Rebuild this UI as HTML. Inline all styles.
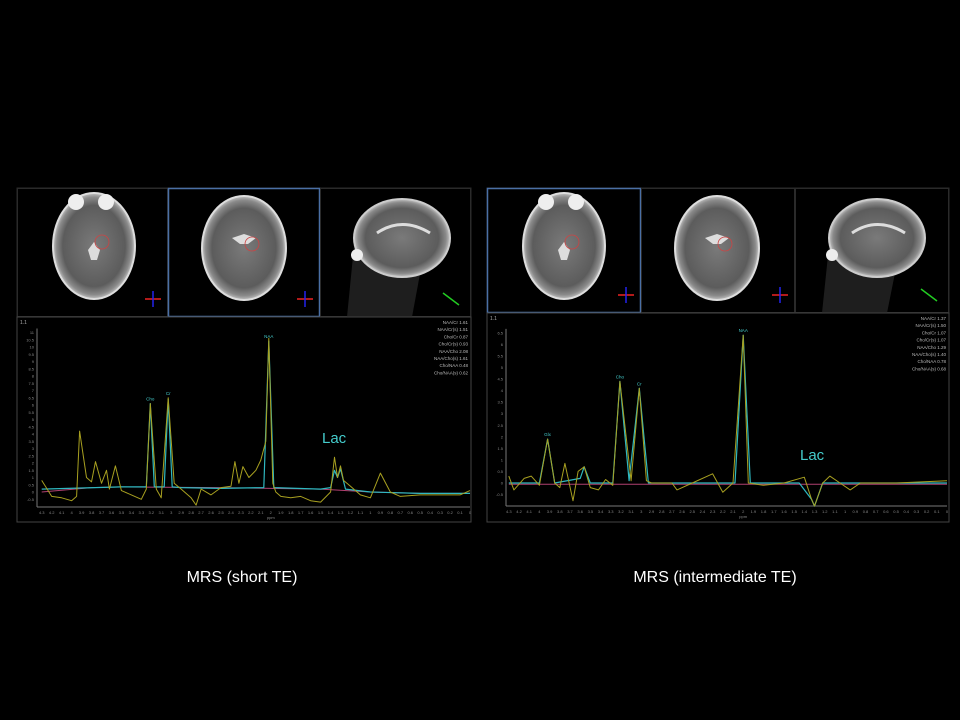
<!DOCTYPE html>
<html><head><meta charset="utf-8"><style>
html,body{margin:0;padding:0;background:#000;width:960px;height:720px;overflow:hidden}
svg{display:block}
text{font-family:"Liberation Sans",sans-serif}
</style></head><body>
<svg id="root" width="960" height="720" viewBox="0 0 960 720">
<defs>
<radialGradient id="brain" cx="50%" cy="50%" r="52%">
<stop offset="0" stop-color="#7a7a7a"/><stop offset="0.75" stop-color="#5c5c5c"/><stop offset="0.9" stop-color="#8a8a8a"/><stop offset="1" stop-color="#cfcfcf"/>
</radialGradient>
</defs>
<text x="242" y="582" fill="#fff" font-size="16" text-anchor="middle">MRS (short TE)</text>
<text x="715" y="582" fill="#fff" font-size="16" text-anchor="middle">MRS (intermediate TE)</text>
</svg>
<script>
// ---- Short TE data ----
const shortPpm = [4.3,4.2,4.1,4.0,3.95,3.92,3.85,3.8,3.76,3.7,3.65,3.62,3.56,3.5,3.4,3.3,3.25,3.21,3.15,3.1,3.03,2.97,2.9,2.8,2.75,2.7,2.6,2.5,2.4,2.36,2.32,2.28,2.22,2.15,2.1,2.05,2.02,1.98,1.95,1.9,1.8,1.7,1.6,1.5,1.4,1.36,1.33,1.3,1.27,1.2,1.1,1.0,0.9,0.8,0.7,0.5,0.3,0.1,0.0];
const shortVal = [0.8,-0.3,-0.4,-0.6,-0.3,4.2,1.0,0.7,2.1,0.6,1.5,0.2,1.8,0.1,-0.2,-0.5,0.2,6.1,0.2,-0.4,6.5,0.6,0.2,-0.4,-0.9,0.2,-0.2,0.3,0.4,2.1,0.6,1.75,1.0,1.5,2.2,3.5,10.6,0.6,0.0,-0.3,-0.4,-0.3,-0.6,-0.7,0.0,2.4,1.0,1.8,0.8,0.4,-0.2,-0.4,1.3,0.0,-0.3,-0.2,-0.2,-0.2,0.1];
const shortFitPpm = [4.3,3.5,3.25,3.21,3.17,3.07,3.03,2.99,2.9,2.5,2.07,2.02,1.97,1.5,1.4,1.36,1.33,1.3,1.25,1.0,0.5,0.0];
const shortFitVal = [0.2,0.35,0.35,6.1,0.35,0.35,6.4,0.35,0.3,0.25,0.3,10.4,0.3,0.2,0.3,1.5,1.0,1.6,0.2,0.0,-0.1,-0.1];
const shortBasePpm = [4.3,3.8,3.5,2.5,1.5,1.0,0.5,0.0];
const shortBaseVal = [0.0,0.3,0.35,0.3,0.2,0.0,-0.1,-0.1];
const shortTicksY = [-0.5,0,0.5,1,1.5,2,2.5,3,3.5,4,4.5,5,5.5,6,6.5,7,7.5,8,8.5,9,9.5,10,10.5,11];
const shortRatios = [["NAA/Cr","1.61"],["NAA/Cr(s)","1.51"],["Cho/Cr","0.87"],["Cho/Cr(s)","0.93"],["NAA/Cho","2.08"],["NAA/Cho(s)","1.61"],["Cho/NAA","0.48"],["Cho/NAA(s)","0.62"]];
// ---- Intermediate TE data ----
const interPpm = [4.3,4.25,4.15,4.08,4.0,3.92,3.85,3.8,3.75,3.67,3.62,3.56,3.5,3.42,3.35,3.28,3.21,3.1,3.02,2.95,2.9,2.7,2.65,2.5,2.3,2.2,2.1,2.0,1.95,1.8,1.6,1.4,1.33,1.3,1.22,1.15,1.05,0.95,0.85,0.5,0.0];
const interVal = [0.3,-0.3,0.2,0.3,-0.1,1.9,0.0,-0.2,0.85,-0.77,0.5,0.7,-0.2,-0.3,0.15,-0.1,4.4,0.1,4.1,0.1,0.0,0.0,-0.3,0.0,0.4,-0.4,0.0,6.4,0.0,-0.1,0.0,0.25,-0.7,-1.0,0.0,0.3,0.0,-0.3,0.0,0.0,0.1];
const interFitPpm = [4.3,4.0,3.92,3.85,3.6,3.56,3.5,3.28,3.21,3.12,3.02,2.93,2.5,2.08,2.0,1.93,1.45,1.33,1.3,1.22,1.0,0.0];
const interFitVal = [0.0,0.0,1.9,0.0,0.2,0.7,0.0,0.0,4.4,0.1,4.1,0.0,0.0,0.0,6.4,0.0,0.0,-0.7,-1.0,0.0,0.0,0.0];
const interBasePpm = [4.3,0.0];
const interBaseVal = [-0.05,-0.05];
const interTicksY = [-0.5,0,0.5,1,1.5,2,2.5,3,3.5,4,4.5,5,5.5,6,6.5];
const interRatios = [["NAA/Cr","1.37"],["NAA/Cr(s)","1.50"],["Cho/Cr","1.07"],["Cho/Cr(s)","1.07"],["NAA/Cho","1.29"],["NAA/Cho(s)","1.40"],["Cho/NAA","0.78"],["Cho/NAA(s)","0.68"]];
const ppmTicks = [4.3,4.2,4.1,4,3.9,3.8,3.7,3.6,3.5,3.4,3.3,3.2,3.1,3,2.9,2.8,2.7,2.6,2.5,2.4,2.3,2.2,2.1,2,1.9,1.8,1.7,1.6,1.5,1.4,1.3,1.2,1.1,1,0.9,0.8,0.7,0.6,0.5,0.4,0.3,0.2,0.1,0];

const NS='http://www.w3.org/2000/svg';
const root=document.getElementById('root');
function mk(tag,attrs,parent){const e=document.createElementNS(NS,tag);for(const k in attrs)e.setAttribute(k,attrs[k]);(parent||root).appendChild(e);return e;}

function drawMRI(x0,x1,x2,x3,yTop,yBot,blueIdx){
  const g=mk('g',{});
  
  
  mk('rect',{x:x0,y:yTop,width:x3-x0,height:yBot-yTop,fill:'#000',stroke:'#2a2a2a','stroke-width':1},g);
  const xs=[x0,x1,x2,x3];
  for(let i=0;i<3;i++){
    const p=mk('rect',{x:xs[i]+0.5,y:yTop+0.5,width:xs[i+1]-xs[i]-1,height:yBot-yTop-1,fill:'none',stroke:i===blueIdx?'#4a6fa5':'#2a2a2a','stroke-width':i===blueIdx?1.5:1},g);
    
    
  }
  // axial
  const ax=x0+77, ay=yTop+58;
  mk('ellipse',{cx:ax,cy:ay,rx:42,ry:54,fill:'#ddd'},g);
  mk('ellipse',{cx:ax,cy:ay,rx:40,ry:52,fill:'url(#brain)'},g);
  mk('circle',{cx:ax-18,cy:yTop+14,r:8,fill:'#eee'},g);
  mk('circle',{cx:ax+12,cy:yTop+14,r:8,fill:'#eee'},g);
  mk('path',{d:`M${ax-6} ${ay+4} l6 -8 l6 8 l-3 10 l-6 0 z`,fill:'#ddd'},g);
  mk('circle',{cx:ax+8,cy:ay-4,r:7,fill:'none',stroke:'#c44','stroke-width':0.8},g);
  // coronal
  const cx=x1+76, cy=yTop+60;
  mk('ellipse',{cx:cx,cy:cy,rx:43,ry:53,fill:'#ddd'},g);
  mk('ellipse',{cx:cx,cy:cy,rx:41,ry:51,fill:'url(#brain)'},g);
  mk('path',{d:`M${cx-12} ${cy-10} l12 -4 l12 4 l-8 6 l-8 0 z`,fill:'#ddd'},g);
  mk('circle',{cx:cx+8,cy:cy-4,r:7,fill:'none',stroke:'#c44','stroke-width':0.8},g);
  // sagittal
  const sx=x2+82, sy=yTop+50;
  mk('path',{d:`M${sx-48} ${sy+8} L${sx-55} ${yBot} L${sx+10} ${yBot} L${sx+20} ${sy+25} Z`,fill:'#1e1e1e'},g);
  mk('ellipse',{cx:sx,cy:sy,rx:49,ry:40,fill:'#ccc'},g);
  mk('ellipse',{cx:sx,cy:sy,rx:47,ry:38,fill:'url(#brain)'},g);
  mk('circle',{cx:sx-45,cy:sy+17,r:6,fill:'#eee'},g);
  mk('path',{d:`M${sx-25} ${sy-5} Q${sx} ${sy-22} ${sx+28} ${sy-5}`,fill:'none',stroke:'#ddd','stroke-width':3},g);
  // orientation markers
  [[x1-15,yBot-18],[x2-15,yBot-18]].forEach(([mx,my])=>{
    mk('line',{x1:mx-8,y1:my,x2:mx+8,y2:my,stroke:'#e22','stroke-width':1.5},g);
    mk('line',{x1:mx,y1:my-8,x2:mx,y2:my+8,stroke:'#22e','stroke-width':1.5},g);
  });
  mk('line',{x1:x3-28,y1:yBot-24,x2:x3-12,y2:yBot-12,stroke:'#2c2','stroke-width':1.5},g);
}

function drawSpectrum(opt){
  const g=mk('g',{});
  
  
  const X=p=>opt.xr-p*opt.kx, Y=v=>opt.y0-v*opt.ky;
  mk('rect',{x:opt.bx,y:opt.by,width:opt.bw,height:opt.bh,fill:'#000',stroke:'#444'},g);
  const ax=mk('line',{x1:opt.axX,y1:opt.axY,x2:opt.xr,y2:opt.axY,stroke:'#777'},g);
  
  
  const ay=mk('line',{x1:opt.axX,y1:opt.axY,x2:opt.axX,y2:Y(opt.ticksY[opt.ticksY.length-1])-4,stroke:'#777'},g);
  
  
  opt.ticksY.forEach(t=>{
    const tx=mk('text',{x:opt.axX-3,y:Y(t)+1.5,fill:'#888','font-size':4,'text-anchor':'end'},g);
    tx.textContent=t;
    
    
  });
  ppmTicks.forEach(t=>{
    const tx=mk('text',{x:X(t),y:opt.axY+7,fill:'#888','font-size':4,'text-anchor':'middle'},g);
    tx.textContent=t;
    
    
  });
  const pl=mk('text',{x:X(2),y:opt.axY+12,fill:'#888','font-size':4,'text-anchor':'middle'},g);pl.textContent='ppm';
  
  
  const sc=mk('text',{x:opt.bx+3,y:opt.by+7,fill:'#aaa','font-size':5},g);sc.textContent='1.1';
  
  
  opt.ratios.forEach((r,i)=>{
    const t=mk('text',{x:opt.bx+opt.bw-3,y:opt.by+7+i*7.2,fill:'#bbb','font-size':4.5,'text-anchor':'end'},g);
    t.textContent=r[0]+'  '+r[1];
    
    
  });
  const line=(ps,vs,col,w,name)=>{
    const d=ps.map((p,i)=>(i?'L':'M')+X(p).toFixed(1)+' '+Y(vs[i]).toFixed(1)).join(' ');
    const e=mk('path',{d:d,fill:'none',stroke:col,'stroke-width':w,'stroke-linejoin':'round'},g);
    
    
  };
  line(opt.basePpm,opt.baseVal,'#b04070',1,'baseline-curve');
  line(opt.fitPpm,opt.fitVal,'#2fb8c0',1.2,'fit-curve');
  line(opt.ppm,opt.val,'#a8a020',1,'spectrum-curve');
  opt.peaks.forEach(([lbl,p,v])=>{
    const t=mk('text',{x:X(p),y:Y(v)-3,fill:'#4cc','font-size':4.5,'text-anchor':'middle'},g);
    t.textContent=lbl;
    
    
  });
  const lac=mk('text',{x:opt.lacX,y:opt.lacY,fill:'#4cc','font-size':15},g);lac.textContent='Lac';
  
  
}

drawMRI(17,168,320,471,188,317,1);
drawMRI(487,641,795,949,188,313,0);
drawSpectrum({name:'short-te-spectrum',bx:17,by:317,bw:454,bh:205,axX:37,axY:507,xr:470,kx:99.6,y0:492,ky:14.5,
  ticksY:shortTicksY,ratios:shortRatios,ppm:shortPpm,val:shortVal,fitPpm:shortFitPpm,fitVal:shortFitVal,
  basePpm:shortBasePpm,baseVal:shortBaseVal,peaks:[['Cho',3.21,6.1],['Cr',3.03,6.5],['NAA',2.02,10.4]],lacX:322,lacY:443});
drawSpectrum({name:'intermediate-te-spectrum',bx:487,by:313,bw:462,bh:209,axX:506,axY:506,xr:947,kx:101.9,y0:483,ky:23.1,
  ticksY:interTicksY,ratios:interRatios,ppm:interPpm,val:interVal,fitPpm:interFitPpm,fitVal:interFitVal,
  basePpm:interBasePpm,baseVal:interBaseVal,peaks:[['Glx',3.92,1.9],['Cho',3.21,4.4],['Cr',3.02,4.1],['NAA',2.0,6.4]],lacX:800,lacY:460});
</script>
</body></html>
